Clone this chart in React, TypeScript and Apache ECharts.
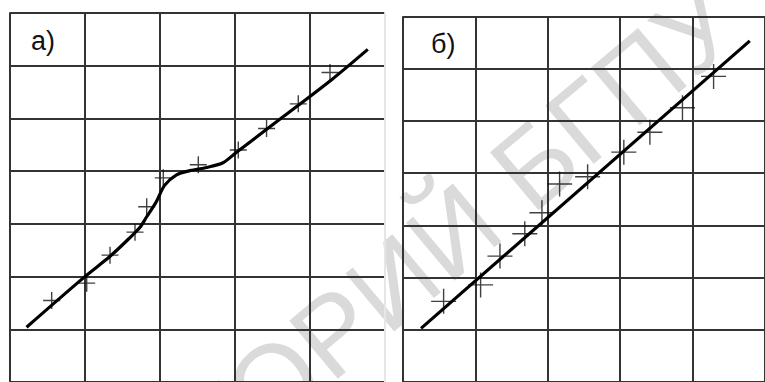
import React, { useEffect, useRef } from "react";
import * as echarts from "echarts";

// Panel a) — measured points (crosses)
const aPointsX = [0.565, 1.032, 1.343, 1.676, 1.832, 2.053, 2.52, 3.053, 3.43, 3.853, 4.276];
const aPointsY = [1.545, 1.875, 2.406, 2.843, 3.324, 3.873, 4.12, 4.4, 4.81, 5.277, 5.87];
// Panel a) — fitted curve
const aCurveX = [0.23, 1.0, 1.34, 1.61, 1.74, 1.83, 1.96, 2.07, 2.23, 2.41, 2.63, 2.85, 3.03, 3.65, 4.31, 4.78];
const aCurveY = [1.04, 1.99, 2.38, 2.74, 2.93, 3.13, 3.42, 3.73, 3.93, 4.01, 4.07, 4.16, 4.36, 5.03, 5.75, 6.31];

// Panel б) — measured points (crosses)
const bPointsX = [0.561, 1.072, 1.339, 1.682, 1.919, 2.163, 2.55, 3.05, 3.41, 3.86, 4.29];
const bPointsY = [1.544, 1.859, 2.41, 2.838, 3.239, 3.791, 3.93, 4.4, 4.78, 5.25, 5.85];
// Panel б) — fitted straight line
const bLineX = [0.249, 4.79];
const bLineY = [1.026, 6.53];

const panelLabels = ["а)", "б)"];
const watermark = "РЕПОЗИТОРИЙ БГПУ";

const crossPath = "path://M10,0 L10,20 M0,10 L20,10";

export default function App() {
  const ref = useRef<HTMLDivElement>(null);
  useEffect(() => {
    if (!ref.current) return;
    const chart = echarts.init(ref.current, null, { renderer: "svg" });
    const gridLine = "#333";
    const xAxisBase = (gi: number, colors: string[]) => ({
      type: "value",
      gridIndex: gi,
      min: 0,
      max: 5,
      interval: 1,
      axisLine: { show: false },
      axisTick: { show: false },
      axisLabel: { show: false },
      splitLine: { show: true, lineStyle: { color: colors, width: 2 } },
    });
    const yAxisBase = (gi: number) => ({
      type: "value",
      gridIndex: gi,
      min: 0,
      max: 7,
      interval: 1,
      axisLine: { show: false },
      axisTick: { show: false },
      axisLabel: { show: false },
      splitLine: { show: true, lineStyle: { color: gridLine, width: 2 } },
    });
    const zip = (xs: number[], ys: number[]) => xs.map((x, i) => [x, ys[i]]);
    const labelStyle = {
      fontSize: 27,
      fontFamily: "Liberation Sans, Arial, sans-serif",
      fill: "#111",
      align: "left",
      verticalAlign: "middle",
    };
    chart.setOption({
      animation: false,
      backgroundColor: "#fff",
      grid: [
        { left: 9.3, top: 13, width: 375, height: 373.8 },
        { left: 403, top: 16.3, width: 374.5, height: 371.7 },
      ],
      xAxis: [
        xAxisBase(0, [gridLine, gridLine, gridLine, gridLine, gridLine, "#e6e6e6"]),
        xAxisBase(1, [gridLine]),
      ],
      yAxis: [yAxisBase(0), yAxisBase(1)],
      graphic: [
        {
          type: "text",
          x: 722,
          y: 6,
          rotation: (40 * Math.PI) / 180,
          z: -1,
          style: {
            text: watermark,
            fontSize: 110,
            fontFamily: "Liberation Sans, Arial, sans-serif",
            fill: "#dadada",
            align: "right",
            verticalAlign: "middle",
          },
        },
        {
          type: "text",
          x: 31,
          y: 41,
          z: 10,
          style: { ...labelStyle, text: panelLabels[0] },
        },
        {
          type: "text",
          x: 431,
          y: 44,
          z: 10,
          style: { ...labelStyle, text: panelLabels[1] },
        },
      ],
      series: [
        {
          type: "line",
          xAxisIndex: 0,
          yAxisIndex: 0,
          data: zip(aCurveX, aCurveY),
          smooth: 0.3,
          showSymbol: false,
          lineStyle: { color: "#000", width: 3.2 },
        },
        {
          type: "scatter",
          xAxisIndex: 0,
          yAxisIndex: 0,
          data: zip(aPointsX, aPointsY),
          symbol: crossPath,
          symbolSize: 17,
          itemStyle: { color: "none", borderColor: "#111", borderWidth: 1.4 },
        },
        {
          type: "line",
          xAxisIndex: 1,
          yAxisIndex: 1,
          data: zip(bLineX, bLineY),
          showSymbol: false,
          lineStyle: { color: "#000", width: 3.2 },
        },
        {
          type: "scatter",
          xAxisIndex: 1,
          yAxisIndex: 1,
          data: zip(bPointsX, bPointsY),
          symbol: crossPath,
          symbolSize: 25,
          itemStyle: { color: "none", borderColor: "#111", borderWidth: 1.4 },
        },
      ],
    });
    return () => chart.dispose();
  }, []);
  return (
    <div
      ref={ref}
      style={{ position: "absolute", left: 0, top: 0, width: 765, height: 382 }}
    />
  );
}
